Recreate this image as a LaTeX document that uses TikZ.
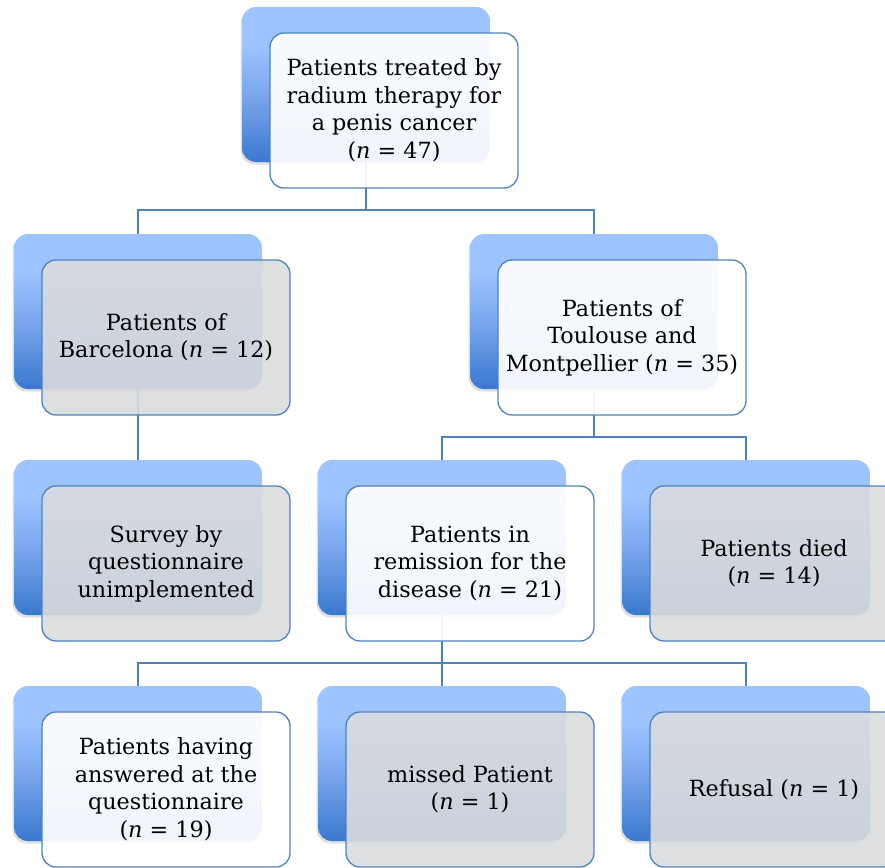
\documentclass[tikz,border=0pt]{standalone}
\usepackage{fontspec}
\setmainfont{DejaVu Serif}
\usetikzlibrary{shadows}
\definecolor{bord}{RGB}{79,129,189}
\definecolor{blight}{RGB}{157,196,255}
\definecolor{bmid}{RGB}{118,163,235}
\definecolor{bdark}{RGB}{58,120,206}
\definecolor{gfill}{RGB}{218,219,221}
\pgfdeclareverticalshading{backshade}{100bp}{color(0bp)=(bdark); color(25bp)=(bdark); color(45bp)=(bmid); color(63bp)=(blight); color(75bp)=(blight); color(100bp)=(blight)}
\tikzset{
  backbox/.style={rectangle, rounded corners=14pt, minimum width=248pt, minimum height=155pt,
    inner sep=0pt, outer sep=0pt, shading=backshade,
    drop shadow={opacity=0.25, shadow xshift=-1.5pt, shadow yshift=-2.5pt}},
  frontbox/.style={rectangle, rounded corners=14pt, minimum width=248pt, minimum height=155pt,
    inner sep=0pt, outer sep=0pt, draw=bord, line width=1.3pt, align=center,
    font=\fontsize{22.3}{27.5}\selectfont, text=black},
  whitebox/.style={frontbox, fill=white, fill opacity=0.93, text opacity=1},
  greybox/.style={frontbox, fill=gfill, fill opacity=0.9, text opacity=1},
  conn/.style={draw=bord, line width=1.3pt}
}
\begin{document}
\begin{tikzpicture}[x=1pt, y=-1pt]
\useasboundingbox (0,0) rectangle (885,867);
\clip (0,0) rectangle (885,867);
% back boxes (centre = top-left + (124,77.5))
\node[backbox] (topB)  at (366,84.5) {};
\node[backbox] (barB)  at (138,311.5) {};
\node[backbox] (toulB) at (594,311.5) {};
\node[backbox] (survB) at (138,537.5) {};
\node[backbox] (remB)  at (442,537.5) {};
\node[backbox] (diedB) at (746,537.5) {};
\node[backbox] (ansB)  at (138,763.5) {};
\node[backbox] (missB) at (442,763.5) {};
\node[backbox] (refB)  at (746,763.5) {};
% connectors
\coordinate (j1) at (366,210);
\coordinate (j2) at (594,437);
\coordinate (j3) at (442,663);
\draw[conn] (topB.south) -- (j1);
\draw[conn] (barB.north) |- (j1) -| (toulB.north);
\draw[conn] (barB.south) -- (survB.north);
\draw[conn] (toulB.south) -- (j2);
\draw[conn] (remB.north) |- (j2) -| (diedB.north);
\draw[conn] (remB.south) -- (j3);
\draw[conn] (ansB.north) |- (j3) -| (refB.north);
\draw[conn] (j3) -- (missB.north);
% front boxes (offset 28,26)
\node[whitebox] (topF)  at (394,110.5) {Patients treated by\\radium therapy for\\a penis cancer\\(\textit{n} = 47)};
\node[greybox]  (barF)  at (166,337.5) {Patients of\\Barcelona (\textit{n} = 12)};
\node[whitebox] (toulF) at (622,337.5) {Patients of\\Toulouse and\\Montpellier (\textit{n} = 35)};
\node[greybox]  (survF) at (166,563.5) {Survey by\\questionnaire\\unimplemented};
\node[whitebox] (remF)  at (470,563.5) {Patients in\\remission for the\\disease (\textit{n} = 21)};
\node[greybox]  (diedF) at (774,563.5) {Patients died\\(\textit{n} = 14)};
\node[whitebox] (ansF)  at (166,789.5) {Patients having\\answered at the\\questionnaire\\(\textit{n} = 19)};
\node[greybox]  (missF) at (470,789.5) {missed Patient\\(\textit{n} = 1)};
\node[greybox]  (refF)  at (774,789.5) {Refusal (\textit{n} = 1)};
\end{tikzpicture}
\end{document}
